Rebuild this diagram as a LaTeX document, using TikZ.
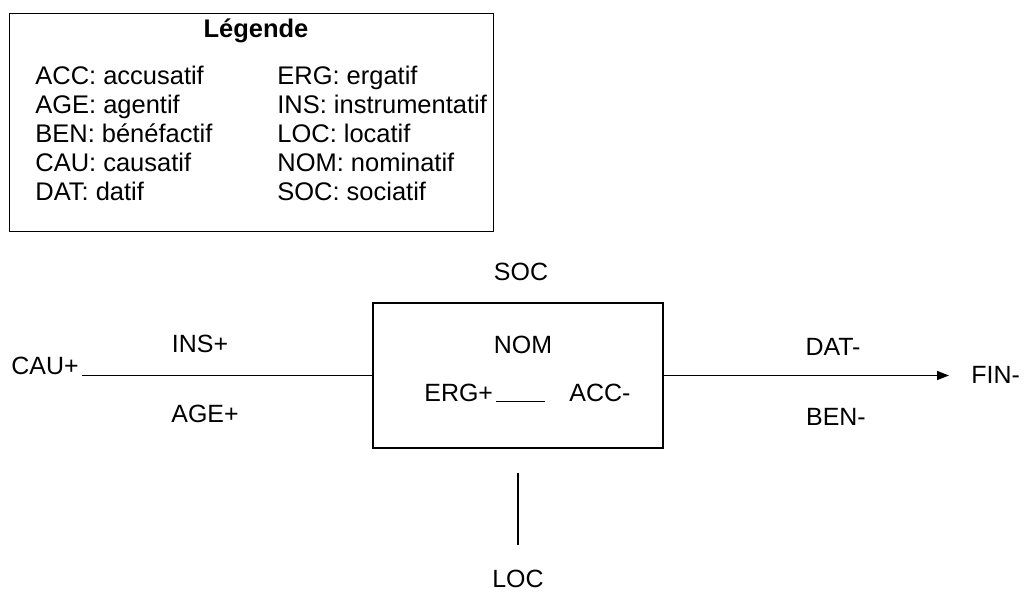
\documentclass[tikz,border=0pt]{standalone}
\usepackage{fontspec}
\setmainfont{Liberation Sans}
\usepackage{tikz}
\usetikzlibrary{arrows.meta, positioning}

\begin{document}
\begin{tikzpicture}[x=0.02cm, y=-0.02cm, thick, line width=0.85pt,
    every node/.style={font=\fontsize{14.2}{17}\selectfont, inner sep=1.5pt},
    entry/.style={anchor=base west, font=\fontsize{14.5}{17}\selectfont},
    lbl/.style={anchor=center}]
    \useasboundingbox (0,0) rectangle (1029,594);

    % legend
    \node[draw, anchor=north west, minimum width=9.68cm, minimum height=4.36cm] (legend) at (9,13) {};
    \node[font=\fontsize{14.5}{17}\selectfont\bfseries] (title) at (256,31) {Légende};
    \node[entry] (acc) at (32,85) {ACC: accusatif};
    \node[entry] (age) at (32,114) {AGE: agentif};
    \node[entry] (ben) at (32,143) {BEN: bénéfactif};
    \node[entry] (cau) at (32,172) {CAU: causatif};
    \node[entry] (dat) at (32,201) {DAT: datif};
    \node[entry] (erg) at (274,85) {ERG: ergatif};
    \node[entry] (ins) at (274,114) {INS: instrumentatif};
    \node[entry] (loc) at (274,143) {LOC: locatif};
    \node[entry] (nom) at (274,172) {NOM: nominatif};
    \node[entry] (soc) at (274,201) {SOC: sociatif};

    % central box
    \node[draw, minimum width=5.8cm, minimum height=2.9cm] (verb) at (518,375.5) {};
    \node[lbl] (socx) at (521,272) {SOC};
    \node[lbl] (nomx) at (523,345) {NOM};
    \node[anchor=west] (ergx) at (421,393) {ERG+};
    \node[anchor=west] (accx) at (566,393) {ACC-};
    \draw[line width=0.6pt] (ergx.base east) -- ([xshift=0.98cm]ergx.base east);

    % left side
    \node[anchor=west] (caux) at (8,366) {CAU+};
    \node[lbl] (insx) at (200,344) {INS+};
    \node[lbl] (agex) at (205,414) {AGE+};
    \draw (caux.east |- verb.west) -- (verb.west);

    % right side
    \node[lbl] (datx) at (833,347) {DAT-};
    \node[lbl] (benx) at (836,417) {BEN-};
    \node[anchor=west] (finx) at (968,375) {FIN-};
    \draw[-{Triangle[length=0.24cm, width=0.18cm]}, shorten >=0.38cm] (verb.east) -- (verb.east -| finx.west);

    % bottom
    \node[lbl] (locx) at (518,579) {LOC};
    \draw[shorten <=0.48cm, shorten >=0.44cm] (verb.south) -- (locx.north);
\end{tikzpicture}
\end{document}
